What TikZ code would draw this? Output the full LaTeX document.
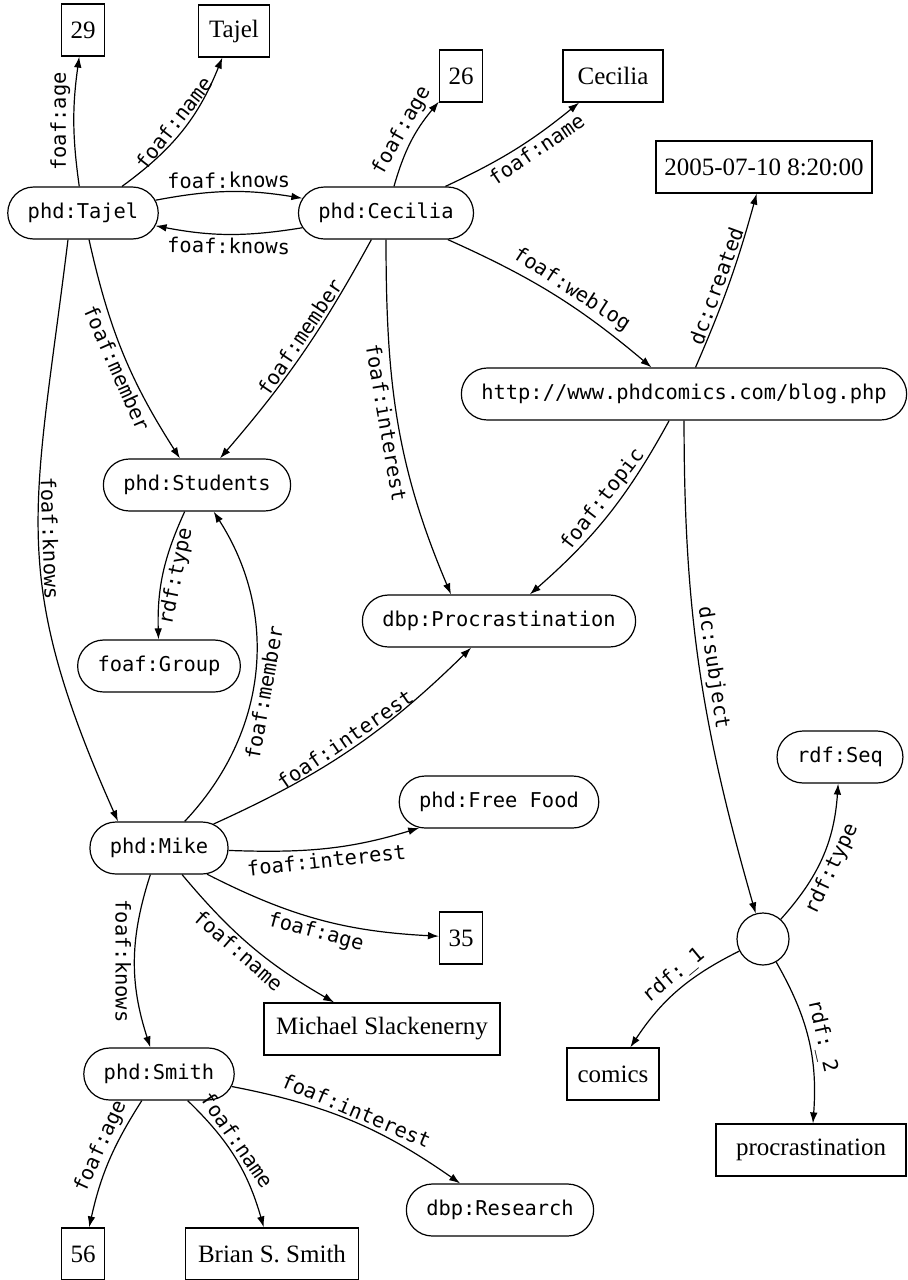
\documentclass[tikz,border=0pt]{standalone}
\usepackage{fontspec}
\setmainfont{Liberation Serif}
\setmonofont{DejaVu Sans Mono}
\usetikzlibrary{arrows.meta,shapes.misc}

\begin{document}
\begin{tikzpicture}
[
	res/.style={rounded rectangle,draw,line width=0.6pt,inner xsep=9pt,minimum height=26pt,font=\ttfamily\fontsize{10.2}{12}\selectfont},
	lit/.style={rectangle,draw,line width=0.6pt,inner sep=2pt,minimum height=26pt,font=\fontsize{12.5}{14}\selectfont},
	bnodestyle/.style={circle,draw,line width=0.6pt,inner sep=0pt,minimum size=26pt},
	prop/.style={line width=0.6pt,-{Latex[length=5.5pt,width=3.8pt]}},
	lbl/.style={font=\ttfamily\fontsize{10.2}{12}\selectfont,sloped,auto,inner sep=1.5pt},
	x=0.5pt,y=0.5pt
]
	\useasboundingbox (0,0) rectangle (907,-1280);

	% resources
	\node[res] at (83,-213) (tajel) {phd:Tajel};
	\node[res] at (386,-213) (cecilia) {phd:Cecilia};
	\node[res] at (684,-394) (blog) {http://www.phdcomics.com/blog.php};
	\node[res] at (197,-485) (students) {phd:Students};
	\node[res] at (159,-666) (group) {foaf:Group};
	\node[res] at (499,-621) (procr) {dbp:Procrastination};
	\node[res] at (499,-802) (freefood) {phd:Free Food};
	\node[res] at (159,-848) (mike) {phd:Mike};
	\node[res] at (159,-1074) (smith) {phd:Smith};
	\node[res] at (500,-1210) (research) {dbp:Research};
	\node[res] at (840,-757) (seq) {rdf:Seq};
	\node[bnodestyle] at (763,-939) (bnode) {};

	% literals
	\node[lit,minimum width=21.5pt] at (83,-30) (agetajel) {29};
	\node[lit,minimum width=35.5pt] at (234,-31) (nametajel) {Tajel};
	\node[lit,minimum width=21.5pt] at (461,-76) (agececilia) {26};
	\node[lit,minimum width=50pt] at (613,-76) (namececilia) {Cecilia};
	\node[lit,minimum width=108pt] at (764,-167) (created) {2005-07-10 8:20:00};
	\node[lit,minimum width=21.5pt] at (461,-938) (agemike) {35};
	\node[lit,minimum width=118pt] at (382,-1029) (namemike) {Michael Slackenerny};
	\node[lit,minimum width=21.5pt] at (83,-1254) (agesmith) {56};
	\node[lit,minimum width=86.5pt] at (272,-1254) (namesmith) {Brian S. Smith};
	\node[lit,minimum width=46pt] at (613,-1074) (comics) {comics};
	\node[lit,minimum width=95pt] at (811,-1150) (procrlit) {procrastination};

	% phd:Tajel
	\draw[prop] (tajel) to[bend left=8] node[lbl] {foaf:age} (agetajel);
	\draw[prop] (tajel) to[bend right=16] node[lbl] {foaf:name} (nametajel);
	\draw[prop] (tajel) to[bend left=10] node[lbl] {foaf:knows} (cecilia);
	\draw[prop] (tajel) to[bend right=10] node[lbl,swap,pos=0.55] {foaf:member} (students);
	\draw[prop] ([xshift=-7.5pt]tajel.south) to[out=-97,in=114,looseness=1.2] node[lbl] {foaf:knows} ([xshift=-20.5pt]mike.north);

	% phd:Cecilia
	\draw[prop] (cecilia) to[bend left=10] node[lbl,swap] {foaf:knows} (tajel);
	\draw[prop] (cecilia) to[bend left=12] node[lbl,pos=0.55] {foaf:age} (agececilia);
	\draw[prop] (cecilia) to[bend right=7] node[lbl,swap,pos=0.62] {foaf:name} (namececilia);
	\draw[prop] (cecilia) to[bend left=8] node[lbl,pos=0.55] {foaf:weblog} (blog);
	\draw[prop] (cecilia) to[bend left=6] node[lbl,pos=0.45] {foaf:member} (students);
	\draw[prop] (cecilia) to[out=-90,in=113] node[lbl,swap] {foaf:interest} ([xshift=-24pt]procr.north);

	% blog
	\draw[prop] (blog) to[bend right=4] node[lbl,pos=0.45] {dc:created} (created);
	\draw[prop] (blog) to[bend left=10] node[lbl,pos=0.46] {foaf:topic} (procr);
	\draw[prop] (blog) to[out=-90,in=106] node[lbl] {dc:subject} (bnode);

	\draw[prop] (students) to[bend right=13] node[lbl,swap] {rdf:type} (group);

	% phd:Mike
	\draw[prop] (mike) to[bend right=38] node[lbl,swap,pos=0.44] {foaf:member} (students);
	\draw[prop] (mike) to[bend right=10] node[lbl] {foaf:interest} (procr);
	\draw[prop] (mike) to[out=-2,in=197] node[lbl,swap] {foaf:interest} (freefood.198);
	\draw[prop] (mike) to[bend right=12] node[lbl,swap,pos=0.5] {foaf:age} (agemike);
	\draw[prop] (mike) to[bend right=10] node[lbl,swap,pos=0.46] {foaf:name} (namemike);
	\draw[prop] (mike) to[bend right=18] node[lbl,swap] {foaf:knows} (smith);

	% phd:Smith
	\draw[prop] (smith) to[bend right=10] node[lbl,pos=0.42] {foaf:age} (agesmith);
	\draw[prop] (smith) to[bend left=15] node[lbl,pos=0.4] {foaf:name} (namesmith);
	\draw[prop] (smith) to[bend left=12] node[lbl,pos=0.5] {foaf:interest} (research);

	% sequence
	\draw[prop] (bnode) to[bend right=19] node[lbl,swap,pos=0.45] {rdf:type} (seq);
	\draw[prop] (bnode) to[bend right=15] node[lbl,pos=0.45] {rdf:\_1} (comics);
	\draw[prop] (bnode) to[bend left=17] node[lbl] {rdf:\_2} (procrlit);

\end{tikzpicture}
\end{document}
